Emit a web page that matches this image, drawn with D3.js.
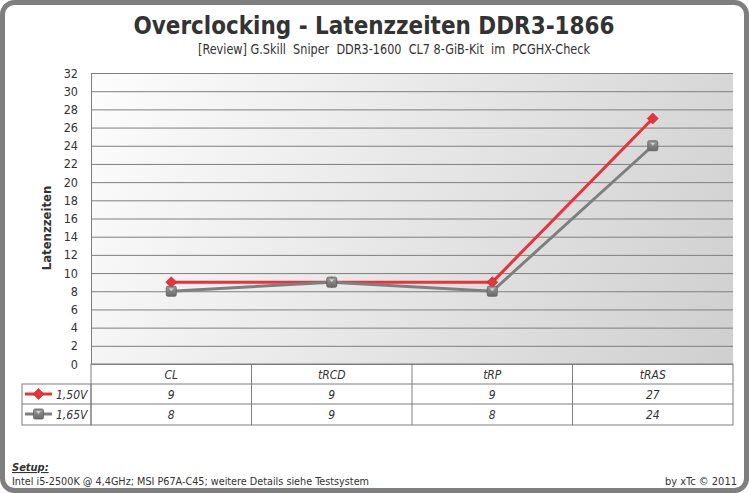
<!DOCTYPE html>
<html><head><meta charset="utf-8">
<script src="https://cdn.jsdelivr.net/npm/d3@7"></script>
<style>
body{margin:0;background:#fff;}
svg{display:block;}
text{font-family:"DejaVu Sans Condensed","DejaVu Sans",sans-serif;fill:#333;}
</style></head>
<body>
<svg id="c" width="749" height="493"></svg>
<script>
const categories = ["CL","tRCD","tRP","tRAS"];
const seriesNames = ["1,50V","1,65V"];
const series150 = [9,9,9,27];
const series165 = [8,9,8,24];
const yTicks = [0,2,4,6,8,10,12,14,16,18,20,22,24,26,28,30,32];

const svg = d3.select("#c");
const L = 91, R = 733, T = 73, B = 364;
const defs = svg.append("defs");
const g1 = defs.append("linearGradient").attr("id","bg").attr("gradientUnits","userSpaceOnUse")
  .attr("x1",L).attr("y1",T).attr("x2",R).attr("y2",B);
g1.append("stop").attr("offset","0").attr("stop-color","#fdfdfd");
g1.append("stop").attr("offset","1").attr("stop-color","#d0cfcf");
const g2 = defs.append("linearGradient").attr("id","sq").attr("x1","0").attr("y1","0").attr("x2","0").attr("y2","1");
g2.append("stop").attr("offset","0").attr("stop-color","#9a9a9a");
g2.append("stop").attr("offset","1").attr("stop-color","#6a6a6a");

// outer frame
svg.append("rect").attr("x",2.5).attr("y",2.5).attr("width",744).attr("height",488)
  .attr("rx",12).attr("fill","#fff").attr("stroke","#7f7f7f").attr("stroke-width",5);

// titles
svg.append("text").attr("x",374).attr("y",34).attr("text-anchor","middle")
  .attr("font-size",25).attr("font-weight","bold").attr("fill","#333")
  .attr("textLength",481).attr("lengthAdjust","spacingAndGlyphs")
  .text("Overclocking - Latenzzeiten DDR3-1866");
svg.append("text").attr("x",394).attr("y",54).attr("text-anchor","middle")
  .attr("font-size",13.5).attr("fill","#333").style("white-space","pre")
  .attr("textLength",392).attr("lengthAdjust","spacingAndGlyphs")
  .text("[Review] G.Skill  Sniper  DDR3-1600  CL7 8-GiB-Kit  im  PCGHX-Check");

const x = d3.scaleBand().domain(categories).range([L,R]);
const y = d3.scaleLinear().domain([0,32]).range([B,T]);

svg.append("rect").attr("x",L).attr("y",T).attr("width",R-L).attr("height",B-T).attr("fill","url(#bg)");

// gridlines
const yAxis = d3.axisLeft(y).tickValues(yTicks).tickSize(-(R-L)).tickPadding(13).tickFormat(d3.format("d"));
const ga = svg.append("g").attr("transform",`translate(${L},0)`).call(yAxis);
ga.select(".domain").attr("stroke","#7f7f7f");
ga.selectAll(".tick line").attr("stroke","#7f7f7f");
ga.selectAll(".tick text").attr("font-size",12.5).attr("fill","#333")
  .attr("font-family","\"DejaVu Sans Condensed\",sans-serif");

svg.append("text").attr("transform",`translate(51,228) rotate(-90)`).attr("text-anchor","middle")
  .attr("font-size",13).attr("font-weight","bold").attr("fill","#333").text("Latenzzeiten");

// lines
const line = d3.line().x((d,i)=>x(categories[i])+x.bandwidth()/2).y(d=>y(d));
svg.append("path").datum(series150).attr("d",line).attr("fill","none").attr("stroke","#e8333a").attr("stroke-width",3);
svg.append("path").datum(series165).attr("d",line).attr("fill","none").attr("stroke","#7f7f7f").attr("stroke-width",3);

function square(sel, cx, cy){
  sel.append("rect").attr("x",cx-5).attr("y",cy-5).attr("width",10).attr("height",10).attr("rx",1.5)
    .attr("fill","url(#sq)").attr("stroke","#5e5e5e").attr("stroke-width",0.8);
  sel.append("path").attr("d",`M${cx-2.5},${cy-3}L${cx+2.5},${cy-3}L${cx},${cy}Z`).attr("fill","#cfcfcf");
}
function diamond(sel, cx, cy){
  sel.append("path").attr("d",`M${cx},${cy-5.5}L${cx+5.5},${cy}L${cx},${cy+5.5}L${cx-5.5},${cy}Z`)
    .attr("fill","#e8333a").attr("stroke","#c42020").attr("stroke-width",0.6);
}
const mk = svg.append("g");
series150.forEach((v,i)=>diamond(mk, x(categories[i])+x.bandwidth()/2, y(v)));
series165.forEach((v,i)=>square(mk, x(categories[i])+x.bandwidth()/2, y(v)));

// data table
const tb = svg.append("g").attr("stroke","#7f7f7f").attr("stroke-width",1).attr("fill","none");
const rowY = [364,384,404,425];
tb.append("rect").attr("x",L).attr("y",rowY[0]).attr("width",R-L).attr("height",rowY[3]-rowY[0]);
tb.append("rect").attr("x",22).attr("y",rowY[1]).attr("width",L-22).attr("height",rowY[3]-rowY[1]);
tb.append("line").attr("x1",22).attr("x2",R).attr("y1",rowY[2]).attr("y2",rowY[2]);
tb.append("line").attr("x1",L).attr("x2",R).attr("y1",rowY[1]).attr("y2",rowY[1]);
categories.forEach((c,i)=>{ if(i>0) tb.append("line").attr("x1",x(c)).attr("x2",x(c)).attr("y1",rowY[0]).attr("y2",rowY[3]); });

const tt = svg.append("g").attr("font-size",12).attr("font-style","italic").attr("text-anchor","middle");
categories.forEach((c,i)=>{
  const cx = x(c)+x.bandwidth()/2;
  tt.append("text").attr("x",cx).attr("y",379).text(c);
  tt.append("text").attr("x",cx).attr("y",399).text(series150[i]);
  tt.append("text").attr("x",cx).attr("y",419).text(series165[i]);
});
// legend keys
svg.append("line").attr("x1",25).attr("x2",52).attr("y1",394).attr("y2",394).attr("stroke","#e8333a").attr("stroke-width",3);
diamond(svg, 38.5, 394);
svg.append("line").attr("x1",25).attr("x2",52).attr("y1",414).attr("y2",414).attr("stroke","#7f7f7f").attr("stroke-width",3);
square(svg, 38.5, 414);
svg.append("text").attr("x",56).attr("y",399).attr("font-size",12).attr("font-style","italic").text(seriesNames[0]);
svg.append("text").attr("x",56).attr("y",419).attr("font-size",12).attr("font-style","italic").text(seriesNames[1]);

// footer
svg.append("text").attr("x",12).attr("y",471).attr("font-size",11).attr("font-weight","bold").attr("font-style","italic")
  .attr("text-decoration","underline").text("Setup:");
svg.append("text").attr("x",12).attr("y",485).attr("font-size",11)
  .attr("textLength",357).attr("lengthAdjust","spacingAndGlyphs")
  .text("Intel i5-2500K @ 4,4GHz; MSI P67A-C45; weitere Details siehe Testsystem");
svg.append("text").attr("x",737).attr("y",485).attr("font-size",11).attr("text-anchor","end").text("by xTc © 2011");
</script>
</body></html>
